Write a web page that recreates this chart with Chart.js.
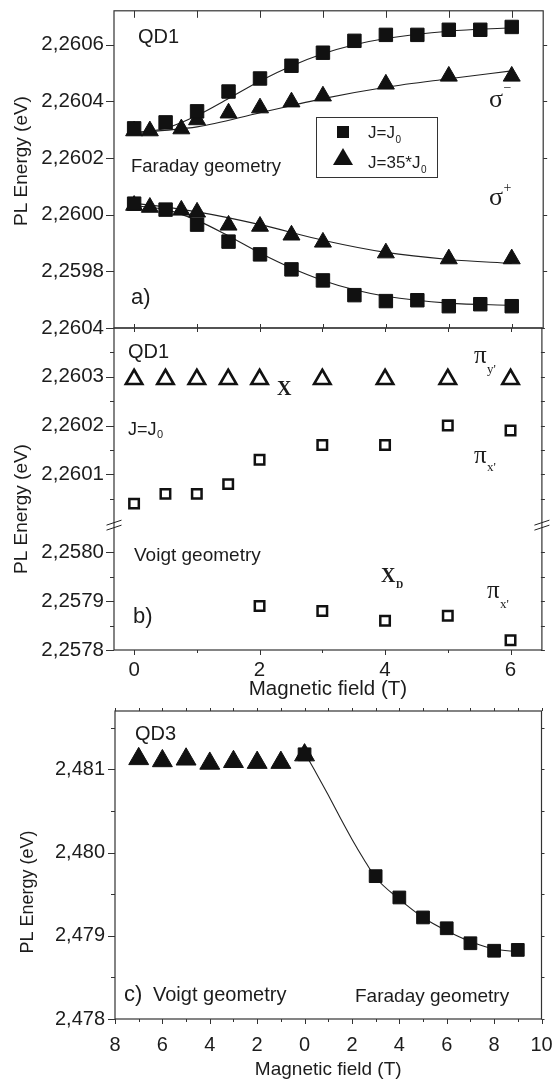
<!DOCTYPE html>
<html><head><meta charset="utf-8">
<script src="https://cdn.jsdelivr.net/npm/chart.js@4.4.1/dist/chart.umd.min.js"></script>
<style>
html,body{margin:0;padding:0;background:#fff;}
#wrap{position:relative;width:554px;height:1083px;overflow:hidden;}
canvas{position:absolute;left:0;top:0;}
</style></head><body>
<div id="wrap">
<canvas id="ca" width="554" height="1083"></canvas>
<canvas id="cb" width="554" height="1083"></canvas>
<canvas id="cc" width="554" height="1083"></canvas>
</div>
<script>
// ---------------- Panel a) QD1, Faraday geometry ----------------
const aFieldSq  = [0, 0.5, 1, 1.5, 2, 2.5, 3, 3.5, 4, 4.5, 5, 5.5, 6];
const aMinusSq  = [2.260305, 2.260326, 2.260365, 2.260435, 2.260481, 2.260526, 2.260572, 2.260614, 2.260635, 2.260635, 2.260653, 2.260653, 2.260663];
const aPlusSq   = [2.260039, 2.260018, 2.259965, 2.259905, 2.259860, 2.259807, 2.259768, 2.259716, 2.259695, 2.259698, 2.259677, 2.259684, 2.259677];
const aFieldTri = [0, 0.25, 0.75, 1, 1.5, 2, 2.5, 3, 4, 5, 6];
const aMinusTri = [2.260296, 2.260296, 2.260303, 2.260335, 2.260359, 2.260377, 2.260398, 2.260419, 2.260461, 2.260489, 2.260489];
const aPlusTri  = [2.260033, 2.260026, 2.260016, 2.260009, 2.259963, 2.259959, 2.259928, 2.259903, 2.259865, 2.259844, 2.259844];
// fitted curves
const aFitFieldSq  = [-0.1, 0, 0.5, 1, 1.5, 2, 2.5, 3, 3.5, 4, 5, 6];
const aFitMinusSq  = [2.260288, 2.26029, 2.260305, 2.26035, 2.26041, 2.260472, 2.260525, 2.260568, 2.2606, 2.260622, 2.260648, 2.26066];
const aFitPlusSq   = [2.260034, 2.260032, 2.260018, 2.25998, 2.259925, 2.259865, 2.259812, 2.259768, 2.259735, 2.259712, 2.259688, 2.25968];
const aFitFieldTri = [-0.1, 0, 1, 2, 3, 4, 5, 6];
const aFitMinusTri = [2.260289, 2.26029, 2.26031, 2.26036, 2.26041, 2.26045, 2.26048, 2.260508];
const aFitPlusTri  = [2.260041, 2.26004, 2.26001, 2.259965, 2.25991, 2.259867, 2.259842, 2.259828];
const aYTicks  = [2.2598, 2.2600, 2.2602, 2.2604, 2.2606];
const abXTicks = [0, 2, 4, 6];
const abXMinor = [0, 1, 2, 3, 4, 5, 6];

// ---------------- Panel b) QD1, Voigt geometry ----------------
const bField   = [0, 0.5, 1, 1.5, 2, 3, 4, 5, 6];
const bPiY     = [2.260295, 2.260295, 2.260295, 2.260295, 2.260295, 2.260295, 2.260295, 2.260295, 2.260295];
const bPiX     = [2.26004, 2.26006, 2.26006, 2.26008, 2.26013, 2.26016, 2.26016, 2.26020, 2.26019];
const bFieldXD = [2, 3, 4, 5, 6];
const bXD      = [2.25789, 2.25788, 2.25786, 2.25787, 2.25782];
const bYTicksUpper = [2.2601, 2.2602, 2.2603, 2.2604];
const bYTicksLower = [2.2578, 2.2579, 2.2580];
const bYMinorUpper = [2.26005, 2.26015, 2.26025, 2.26035];
const bYMinorLower = [2.25785, 2.25795];
const bBreakUpper = 2.26000;   // lowest value shown above the axis break
const bBreakLower = 2.25806;   // highest value shown below the axis break

// ---------------- Panel c) QD3 ----------------
const cVoigtField   = [7, 6, 5, 4, 3, 2, 1, 0];
const cVoigt        = [2.481125, 2.481100, 2.481120, 2.481070, 2.481090, 2.481080, 2.481080, 2.481170];
const cFaradayField = [0, 3, 4, 5, 6, 7, 8, 9];
const cFaraday      = [2.48118, 2.479716, 2.47946, 2.47922, 2.47909, 2.47891, 2.47882, 2.47883];
const cFitField     = [0, 0.5, 1, 1.5, 2, 2.5, 3, 4, 5, 6, 7, 8, 9];
const cFit          = [2.48120, 2.48095, 2.48069, 2.48042, 2.48016, 2.47992, 2.47970, 2.47944, 2.47922, 2.47906, 2.47893, 2.47884, 2.47881];
const cXTicks = [-8, -6, -4, -2, 0, 2, 4, 6, 8, 10];
const cXMinor = [-8, -7, -6, -5, -4, -3, -2, -1, 0, 1, 2, 3, 4, 5, 6, 7, 8, 9, 10];
const cYTicks = [2.478, 2.479, 2.480, 2.481];
const cYMinor = [2.4785, 2.4795, 2.4805, 2.4815];

// ---------------- styling / helpers ----------------
const INK = '#111111';
const TXT = '#1c1c1c';
const LINE = '#333333';
const SANS = '"Liberation Sans", Arial, Helvetica, sans-serif';
const SERIF = '"Liberation Serif", "Times New Roman", serif';
Chart.defaults.font.family = SANS;
Chart.defaults.color = TXT;

const pts = (xs, ys) => xs.map((x, i) => ({x: x, y: ys[i]}));
const bShift = bBreakUpper - bBreakLower;
const bMap = v => (v < 2.259 ? v + bShift : v);
const bUnmap = u => (u < bBreakUpper - 1e-9 ? u - bShift : u);

function markerDs(data, style, r, filled, bw) {
  return {data: data, pointStyle: style, pointRadius: r, pointHoverRadius: r,
    backgroundColor: filled ? INK : 'rgba(0,0,0,0)', borderColor: INK, borderWidth: bw,
    showLine: false, clip: false};
}
function fitDs(data) {
  return {data: data, showLine: true, pointRadius: 0, borderColor: '#222', borderWidth: 1.1,
    cubicInterpolationMode: 'monotone', fill: false};
}
function baseOptions(pad) {
  return {responsive: false, animation: false, devicePixelRatio: 1, events: [],
    layout: {padding: pad},
    plugins: {legend: {display: false}, tooltip: {enabled: false}}};
}
function yAxis(min, max, tickVals, width, digits, fontSize, map, unmap) {
  map = map || (v => v); unmap = unmap || (v => v);
  return {type: 'linear', position: 'left', min: min, max: max,
    grid: {display: false, drawTicks: false}, border: {display: false},
    ticks: {padding: 10, font: {size: fontSize}, color: TXT, autoSkip: false,
      callback: v => unmap(v).toFixed(digits).replace('.', ',')},
    afterBuildTicks: s => { s.ticks = tickVals.map(v => ({value: map(v)})); },
    afterFit: s => { s.width = width; s.paddingTop = 0; s.paddingBottom = 0; }};
}
function xAxis(min, max, tickVals, height, pad, fontSize, titleSize, titlePad, labelFn) {
  return {type: 'linear', position: 'bottom', min: min, max: max,
    grid: {display: false, drawTicks: false}, border: {display: false},
    ticks: {padding: pad, font: {size: fontSize}, color: TXT, autoSkip: false, maxRotation: 0,
      callback: v => labelFn(v)},
    afterBuildTicks: s => { s.ticks = tickVals.map(v => ({value: v})); },
    afterFit: s => { s.height = height; s.paddingLeft = 0; s.paddingRight = 0; },
    title: {display: true, text: 'Magnetic field (T)', color: TXT,
      font: {size: titleSize, lineHeight: 1.2}, padding: {top: 0, bottom: titlePad}}};
}

function drawTexts(ctx, texts) {
  texts.forEach(o => {
    ctx.save();
    ctx.fillStyle = TXT;
    ctx.font = o.f;
    if (o.rot) {
      ctx.translate(o.x, o.y); ctx.rotate(-Math.PI / 2);
      ctx.textAlign = 'center'; ctx.textBaseline = 'middle';
      ctx.fillText(o.t, 0, 0);
    } else {
      ctx.textAlign = 'left'; ctx.textBaseline = 'alphabetic';
      ctx.fillText(o.t, o.x, o.y);
      const w = ctx.measureText(o.t).width;
      if (o.s) { ctx.font = o.sf; ctx.fillText(o.s, o.x + w + (o.sx || 0.5), o.y + o.sdy); }
    }
    ctx.restore();
  });
}

function framePlugin(marks, texts, extra) {
  return {id: 'frame', afterDraw(chart) {
    const ctx = chart.ctx, ca = chart.chartArea, sc = chart.scales;
    ctx.save();
    ctx.strokeStyle = LINE; ctx.lineWidth = 1.2;
    ctx.strokeRect(ca.left, ca.top, ca.right - ca.left, ca.bottom - ca.top);
    ctx.lineWidth = 1;
    marks.forEach(m => {
      const s = sc[m.axis];
      m.values.forEach(v => {
        const p = Math.round(s.getPixelForValue(m.map ? m.map(v) : v)) + 0.5;
        const o = m.out || 0, i = m.in || 0;
        ctx.beginPath();
        if (m.side === 'left') { ctx.moveTo(ca.left - o, p); ctx.lineTo(ca.left + i, p); }
        else if (m.side === 'right') { ctx.moveTo(ca.right - i, p); ctx.lineTo(ca.right + o, p); }
        else if (m.side === 'top') { ctx.moveTo(p, ca.top - o); ctx.lineTo(p, ca.top + i); }
        else { ctx.moveTo(p, ca.bottom - i); ctx.lineTo(p, ca.bottom + o); }
        ctx.stroke();
      });
    });
    if (extra) extra(chart, ctx);
    ctx.restore();
    drawTexts(ctx, texts);
  }};
}

// ---------------- Chart a ----------------
const textsA = [
  {t: 'PL Energy (eV)', x: 22, y: 161, f: '19px ' + SANS, rot: true},
  {t: 'QD1', x: 138, y: 43, f: '20px ' + SANS},
  {t: 'Faraday geometry', x: 131, y: 172, f: '18.5px ' + SANS},
  {t: 'a)', x: 131, y: 304, f: '22px ' + SANS},
  {t: 'σ', x: 489, y: 107, f: '26px ' + SERIF, s: '−', sf: '14px ' + SERIF, sdy: -15.5, sx: 0},
  {t: 'σ', x: 489, y: 205, f: '26px ' + SERIF, s: '+', sf: '14px ' + SERIF, sdy: -13, sx: 0},
  {t: 'J=J', x: 368, y: 138, f: '17px ' + SANS, s: '0', sf: '10px ' + SANS, sdy: 5},
  {t: 'J=35*J', x: 368, y: 168, f: '17px ' + SANS, s: '0', sf: '10px ' + SANS, sdy: 5}
];
function legendA(chart, ctx) {
  ctx.strokeStyle = '#333'; ctx.lineWidth = 1;
  ctx.strokeRect(316.5, 117.5, 121, 60);
  ctx.fillStyle = INK;
  ctx.fillRect(337, 126, 12, 12);
  ctx.beginPath(); ctx.moveTo(343, 148); ctx.lineTo(353, 165); ctx.lineTo(333, 165); ctx.closePath(); ctx.fill();
}
new Chart(document.getElementById('ca'), {
  type: 'scatter',
  data: {datasets: [
    markerDs(pts(aFieldSq, aMinusSq), 'rect', 9.5, true, 1),
    markerDs(pts(aFieldSq, aPlusSq), 'rect', 9.5, true, 1),
    markerDs(pts(aFieldTri, aMinusTri), 'triangle', 9.8, true, 1),
    markerDs(pts(aFieldTri, aPlusTri), 'triangle', 9.8, true, 1),
    fitDs(pts(aFitFieldSq, aFitMinusSq)),
    fitDs(pts(aFitFieldTri, aFitMinusTri)),
    fitDs(pts(aFitFieldSq, aFitPlusSq)),
    fitDs(pts(aFitFieldTri, aFitPlusTri))
  ]},
  options: Object.assign(baseOptions({top: 7, left: 0, right: 9, bottom: 755}), {
    scales: {
      x: {type: 'linear', min: -0.32, max: 6.5, display: false},
      y: yAxis(2.2596, 2.26072, aYTicks, 114, 4, 20.5)
    }
  }),
  plugins: [framePlugin([
    {axis: 'y', side: 'left', values: aYTicks, out: 8},
    {axis: 'y', side: 'right', values: aYTicks, out: 4},
    {axis: 'x', side: 'top', values: abXMinor, in: 7},
    {axis: 'x', side: 'bottom', values: abXMinor, in: 4}
  ], textsA, legendA)]
});

// ---------------- Chart b ----------------
const textsB = [
  {t: 'PL Energy (eV)', x: 22, y: 509, f: '19px ' + SANS, rot: true},
  {t: 'QD1', x: 128, y: 358, f: '20px ' + SANS},
  {t: 'X', x: 277, y: 395, f: 'bold 20px ' + SERIF},
  {t: 'J=J', x: 128, y: 435, f: '18px ' + SANS, s: '0', sf: '11px ' + SANS, sdy: 3},
  {t: 'π', x: 474, y: 363, f: '25px ' + SERIF, s: "y'", sf: '13px ' + SERIF, sdy: 10},
  {t: 'π', x: 474, y: 463, f: '25px ' + SERIF, s: "x'", sf: '13px ' + SERIF, sdy: 8},
  {t: 'Voigt geometry', x: 134, y: 561, f: '19px ' + SANS},
  {t: 'b)', x: 133, y: 623, f: '22px ' + SANS},
  {t: 'X', x: 381, y: 582, f: 'bold 20px ' + SERIF, s: 'D', sf: 'bold 10px ' + SERIF, sdy: 6},
  {t: 'π', x: 487, y: 598, f: '25px ' + SERIF, s: "x'", sf: '13px ' + SERIF, sdy: 10}
];
function breakB(chart, ctx) {
  const ca = chart.chartArea;
  const yb = chart.scales.y.getPixelForValue(bBreakUpper) + 2;
  ctx.strokeStyle = '#222'; ctx.lineWidth = 1;
  [ca.left, ca.right].forEach(ax => {
    [-1, 1].forEach(k => {
      ctx.beginPath();
      ctx.moveTo(ax - 7.5, yb + 2.5 + k * 2.5);
      ctx.lineTo(ax + 7.5, yb - 2.5 + k * 2.5);
      ctx.stroke();
    });
  });
}
new Chart(document.getElementById('cb'), {
  type: 'scatter',
  data: {datasets: [
    markerDs(pts(bField, bPiY), 'triangle', 9.5, false, 2.6),
    markerDs(pts(bField, bPiX.map(bMap)), 'rect', 6.7, false, 2.5),
    markerDs(pts(bFieldXD, bXD.map(bMap)), 'rect', 6.7, false, 2.5)
  ]},
  options: Object.assign(baseOptions({top: 328, left: 0, right: 9, bottom: 373}), {
    scales: {
      x: xAxis(-0.32, 6.5, abXTicks, 60, 8, 20.5, 20.5, 8, v => String(v)),
      y: yAxis(bMap(2.2578), 2.2604, bYTicksLower.concat(bYTicksUpper), 114, 4, 20.5, bMap, bUnmap)
    }
  }),
  plugins: [framePlugin([
    {axis: 'y', side: 'left', values: bYTicksUpper.concat(bYTicksLower), map: bMap, out: 8},
    {axis: 'y', side: 'left', values: bYMinorUpper.concat(bYMinorLower), map: bMap, out: 4},
    {axis: 'y', side: 'right', values: bYTicksUpper.concat(bYTicksLower, bYMinorUpper, bYMinorLower), map: bMap, out: 3, in: 1},
    {axis: 'x', side: 'top', values: abXMinor, in: 4},
    {axis: 'x', side: 'bottom', values: abXTicks, out: 5},
    {axis: 'x', side: 'bottom', values: abXMinor, out: 3}
  ], textsB, breakB)]
});

// ---------------- Chart c ----------------
const textsC = [
  {t: 'PL Energy (eV)', x: 28, y: 892, f: '18px ' + SANS, rot: true},
  {t: 'QD3', x: 135, y: 740, f: '20px ' + SANS},
  {t: 'c)', x: 124, y: 1001, f: '22px ' + SANS},
  {t: 'Voigt geometry', x: 153, y: 1001, f: '20px ' + SANS},
  {t: 'Faraday geometry', x: 355, y: 1002, f: '19px ' + SANS}
];
new Chart(document.getElementById('cc'), {
  type: 'scatter',
  data: {datasets: [
    markerDs(pts(cFaradayField, cFaraday), 'rect', 9, true, 1),
    markerDs(pts(cVoigtField.map(v => -v), cVoigt), 'triangle', 11.5, true, 1),
    fitDs(pts(cFitField, cFit))
  ]},
  options: Object.assign(baseOptions({top: 711, left: 0, right: 8, bottom: 0}), {
    scales: {
      x: xAxis(-8, 10, cXTicks, 64, 14, 20, 19, 2, v => String(Math.abs(v))),
      y: yAxis(2.478, 2.4817, cYTicks, 115, 3, 20)
    }
  }),
  plugins: [framePlugin([
    {axis: 'y', side: 'left', values: cYTicks, out: 7},
    {axis: 'y', side: 'left', values: cYMinor, out: 4},
    {axis: 'y', side: 'right', values: cYTicks.concat(cYMinor), out: 3},
    {axis: 'x', side: 'top', values: cXMinor, out: 3},
    {axis: 'x', side: 'bottom', values: cXTicks, out: 5},
    {axis: 'x', side: 'bottom', values: cXMinor, out: 3}
  ], textsC)]
});
</script>
</body></html>
